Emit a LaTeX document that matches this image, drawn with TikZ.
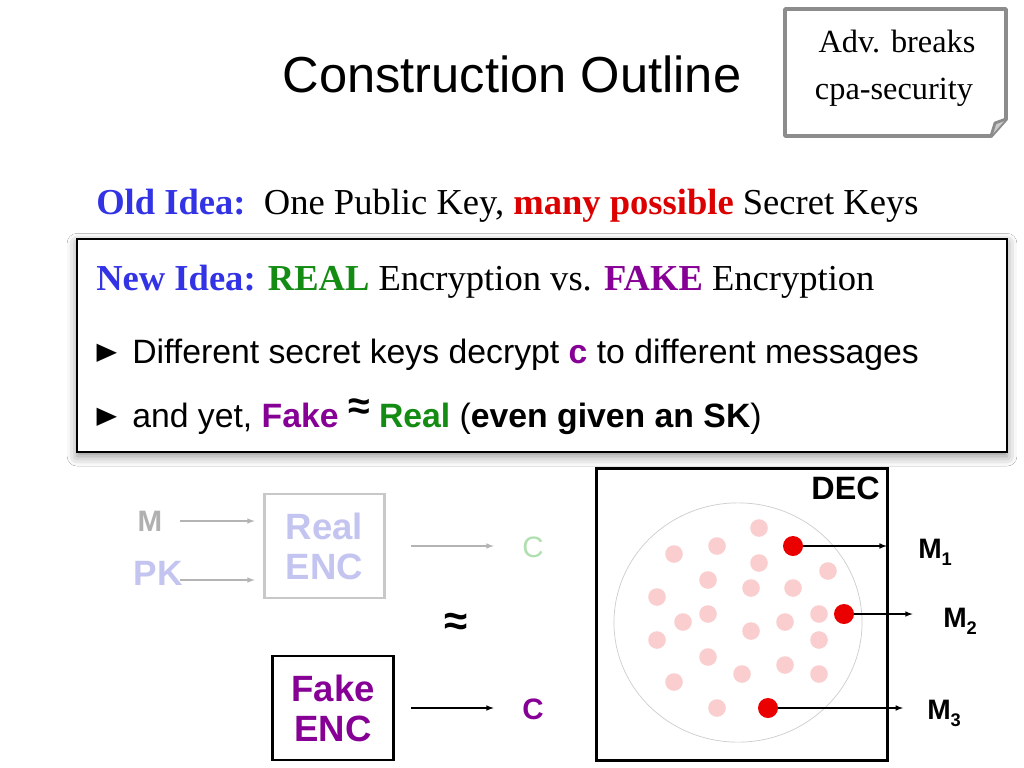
\documentclass[tikz,border=0pt]{standalone}
\usepackage{fontspec}
\setmainfont{Liberation Serif}
\setsansfont{Liberation Sans}
\newfontfamily\symfont{DejaVu Sans}
\usetikzlibrary{shadows.blur}
\definecolor{ideablue}{RGB}{51,51,230}
\definecolor{manyred}{RGB}{220,0,0}
\definecolor{realgreen}{RGB}{20,140,20}
\definecolor{fakepurple}{RGB}{135,0,150}
\definecolor{notegray}{RGB}{140,140,140}
\definecolor{mgray}{RGB}{176,176,176}
\definecolor{lav}{RGB}{196,196,240}
\definecolor{cgreen}{RGB}{176,224,176}
\definecolor{boxgray}{RGB}{200,200,200}
\definecolor{arrgray}{RGB}{180,180,180}
\definecolor{circgray}{RGB}{205,205,205}
\definecolor{pinkdot}{RGB}{250,206,206}
\definecolor{dotred}{RGB}{235,0,0}
\newcommand{\msub}[1]{\raisebox{-5pt}{\fontsize{13}{13}\selectfont #1}}
\begin{document}
\begin{tikzpicture}[x=0.025cm, y=-0.025cm, >=latex,
    txt/.style={inner sep=0pt},
    encbox/.style={minimum width=3.02cm, minimum height=2.6cm, line width=2.1pt, align=center,
        font=\sffamily\bfseries\fontsize{26}{28.5}\selectfont},
    gline/.style={draw=arrgray, line width=0.8pt},
    bline/.style={draw=black, line width=0.8pt},
    dot/.style={fill=pinkdot},
    reddot/.style={circle, fill=dotred, inner sep=0pt, minimum size=0.5cm},
    mlabel/.style={inner sep=0pt, font=\sffamily\bfseries\fontsize{20}{20}\selectfont},
    bul/.style={inner sep=0pt, font=\symfont\fontsize{20}{20}\selectfont}]
    \fill[white] (0,0) rectangle (1024,768);
    \useasboundingbox (0,0) rectangle (1024,768);
    \node[txt, anchor=base] (T) at (512,93) {\sffamily\fontsize{36}{36}\selectfont Construction Outline};
    \draw[line width=2.8pt, draw=notegray, fill=white, line join=round] (785,9) -- (1006,9) -- (1006,119) -- (991,136) -- (785,136) -- cycle;
    \draw[line width=2pt, draw=notegray, fill=gray!40, line join=round] (1006,119) -- (995,123) -- (991,136);
    \node[txt, anchor=base] (N1) at (897,53) {\fontsize{23}{23}\selectfont Adv. breaks};
    \node[txt, anchor=base] (N2) at (894,100) {\fontsize{23}{23}\selectfont cpa-security};
    \node[txt, anchor=base west] (OI) at (96,214) {\fontsize{26}{26}\selectfont\textcolor{ideablue}{\textbf{Old Idea:}}\ \ One Public Key, \textcolor{manyred}{\textbf{many possible}} Secret Keys};
    \draw[line width=2.1pt, fill=white, blur shadow={shadow xshift=0pt, shadow yshift=-3pt, shadow blur radius=7pt, shadow opacity=45}] (77,239) rectangle (1007,452);
    \node[txt, anchor=base west] (NI) at (96,290) {\fontsize{26}{26}\selectfont\textcolor{ideablue}{\textbf{New Idea:}} \textcolor{realgreen}{\textbf{REAL}} Encryption vs. \textcolor{fakepurple}{\textbf{FAKE}} Encryption};
    \node[bul] (P1) at (107,353) {\scalebox{0.95}[0.85]{▶}};
    \node[txt, anchor=base west] (B1) at (132,363) {\sffamily\fontsize{24}{24}\selectfont Different secret keys decrypt \textcolor{fakepurple}{\textbf{c}} to different messages};
    \node[bul] (P2) at (107,417) {\scalebox{0.95}[0.85]{▶}};
    \node[txt, anchor=base west] (B2) at (132,427) {\sffamily\fontsize{24}{24}\selectfont and yet, \textcolor{fakepurple}{\textbf{Fake}} \raisebox{5pt}{\fontsize{28}{28}\selectfont\textbf{≈}} \textcolor{realgreen}{\textbf{Real}} (\textbf{even given an SK})};
    \node[txt, anchor=base, text=mgray, font=\sffamily\bfseries\fontsize{21}{21}\selectfont] (M) at (150,531) {M};
    \node[txt, anchor=base, text=lav, font=\sffamily\bfseries\fontsize{25}{25}\selectfont] (PK) at (158,585) {PK};
    \node[encbox, draw=boxgray, text=lav] (RE) at (324.5,546) {Real\\ENC};
    \node[encbox, draw=black, text=fakepurple] (FE) at (333,708) {Fake\\ENC};
    \node[txt, text=cgreen, font=\sffamily\fontsize{21}{21}\selectfont] (C1) at (533,547) {C};
    \node[txt, text=fakepurple, font=\sffamily\bfseries\fontsize{21}{21}\selectfont] (C2) at (533,709) {C};
    \node[txt, font=\sffamily\bfseries\fontsize{30}{30}\selectfont] (AP) at (456,624) {≈};
    \coordinate (Ma) at (180,521);
    \coordinate (Pa) at (180,580);
    \draw[gline, ->, shorten >=0.2cm] (Ma) -- (Ma -| RE.west);
    \draw[gline, ->, shorten >=0.2cm] (Pa) -- (Pa -| RE.west);
    \draw[gline, ->, shorten <=0.61cm, shorten >=0.71cm] (RE.east) -- (RE.east -| C1.west);
    \draw[bline, ->, shorten <=0.41cm, shorten >=0.71cm] (FE.east) -- (FE.east -| C2.west);
    \node[draw, line width=2.1pt, minimum width=7.25cm, minimum height=7.28cm] (D) at (742,614.5) {};
    \node[txt, anchor=base east, font=\sffamily\bfseries\fontsize{23}{23}\selectfont] (DL) at (880,499) {DEC};
    \draw[draw=circgray, line width=0.5pt] (738,622.5) ellipse [x radius=3.1cm, y radius=2.99cm];
    \foreach \x/\y in {759/528, 717/546, 674/554, 759/563, 828/571, 708/580, 751/588, 793/588,
        657/597, 708/614, 683/622, 819/614, 785/622, 751/631, 657/640, 819/640, 708/657,
        785/665, 742/674, 819/674, 674/682, 717/708}
        \fill[dot] (\x,\y) circle [radius=0.22cm];
    \node[reddot] (R1) at (793,546) {};
    \node[reddot] (R2) at (844,614) {};
    \node[reddot] (R3) at (768,708) {};
    \node[mlabel, anchor=base west] (M1) at (918,558) {M\msub{1}};
    \node[mlabel, anchor=base west] (M2) at (943,627) {M\msub{2}};
    \node[mlabel, anchor=base west] (M3) at (927,719) {M\msub{3}};
    \draw[bline, ->, shorten >=0.78cm] (R1.east) -- (R1.east -| M1.west);
    \draw[bline, ->, shorten >=0.76cm] (R2.east) -- (R2.east -| M2.west);
    \draw[bline, ->, shorten >=0.6cm] (R3.east) -- (R3.east -| M3.west);
\end{tikzpicture}
\end{document}
